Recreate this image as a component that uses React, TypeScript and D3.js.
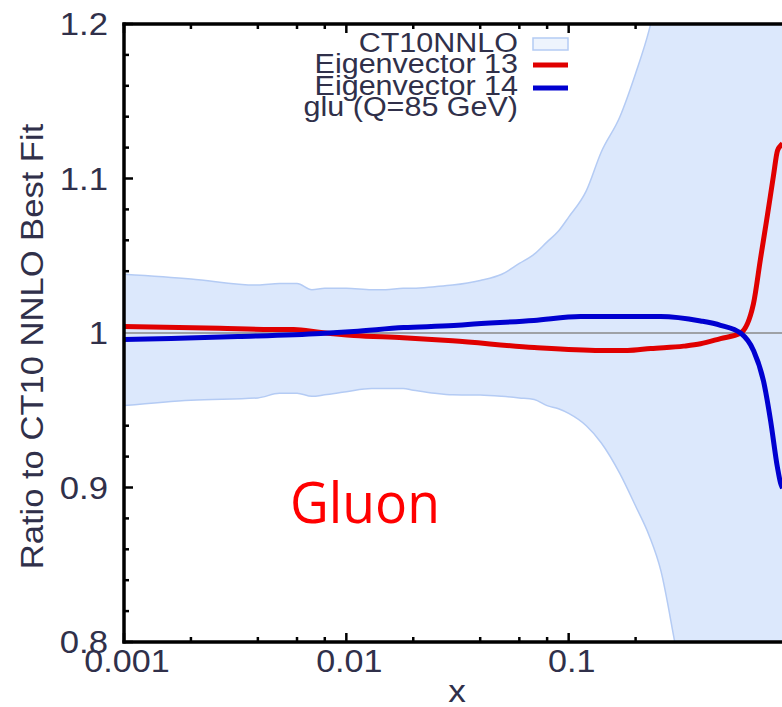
import React from "react";
import * as d3 from "d3";

// ---- data ----
const bandX = [0.001, 0.002, 0.004, 0.005, 0.006, 0.007, 0.008, 0.01, 0.013, 0.015, 0.018, 0.02, 0.025, 0.03, 0.04, 0.05, 0.06, 0.07, 0.08, 0.09, 0.1, 0.12, 0.14, 0.17, 0.2, 0.23, 0.26, 0.3, 0.4, 0.6, 0.8, 1];
const bandHi = [1.038, 1.035, 1.031, 1.032, 1.032, 1.028, 1.029, 1.029, 1.028, 1.028, 1.029, 1.029, 1.030, 1.031, 1.034, 1.038, 1.045, 1.051, 1.059, 1.066, 1.075, 1.092, 1.117, 1.140, 1.168, 1.196, 1.23, 1.28, 1.4, 1.6, 1.8, 2.0];
const bandLo = [0.953, 0.9565, 0.958, 0.961, 0.961, 0.959, 0.960, 0.962, 0.964, 0.964, 0.964, 0.963, 0.961, 0.960, 0.9598, 0.959, 0.958, 0.957, 0.953, 0.951, 0.948, 0.940, 0.929, 0.909, 0.888, 0.869, 0.846, 0.80, 0.7, 0.5, 0.3, 0.1];

const ev13X = [0.001, 0.0027, 0.0046, 0.0058, 0.0077, 0.0108, 0.018, 0.030, 0.07, 0.139, 0.184, 0.234, 0.329, 0.392, 0.482, 0.593, 0.678, 0.729, 0.784, 0.834, 0.869, 0.897, 0.916];
const ev13Y = [1.0042, 1.003, 1.0023, 1.0023, 1.0003, 0.9984, 0.997, 0.995, 0.9906, 0.9887, 0.9887, 0.990, 0.9915, 0.993, 0.9964, 1.0, 1.019, 1.048, 1.0766, 1.1018, 1.118, 1.1212, 1.1225];

const ev14X = [0.001, 0.00163, 0.00325, 0.00768, 0.0108, 0.0181, 0.0304, 0.0352, 0.0697, 0.113, 0.139, 0.259, 0.392, 0.482, 0.593, 0.678, 0.752, 0.809, 0.869, 0.897, 0.916];
const ev14Y = [0.9958, 0.9964, 0.9977, 0.9997, 1.001, 1.0035, 1.0048, 1.0055, 1.0081, 1.0107, 1.0107, 1.0107, 1.0078, 1.005, 1.0, 0.9887, 0.969, 0.9435, 0.913, 0.903, 0.8995];

const xMajor = [0.001, 0.01, 0.1, 1];
const xMajorLabels = ["0.001", "0.01", "0.1", "1"];
const xMinorMult = [2, 4, 6, 8];
const yMajor = [0.8, 0.9, 1.0, 1.1, 1.2];
const yMajorLabels = ["0.8", "0.9", "1", "1.1", "1.2"];
const yMinorStep = 0.02;

const legendLabels = ["CT10NNLO", "Eigenvector 13", "Eigenvector 14", "glu (Q=85 GeV)"];
const yTitle = "Ratio to CT10 NNLO Best Fit";
const xTitle = "x";
const annotation = "Gluon";

// ---- layout ----
const W = 782, H = 707;
const L = 124, R = 791, T = 24, B = 642;
const TEXT = "#30304a";
const FONT = "'Liberation Sans', Arial, sans-serif";

export default function App() {
  const x = d3.scaleLog().domain([0.001, 1]).range([L, R]);
  const y = d3.scaleLinear().domain([0.8, 1.2]).range([B, T]);

  const band = bandX.map((v, i) => ({ x: v, lo: bandLo[i], hi: bandHi[i] }));
  const area = d3.area<any>().x(d => x(d.x)).y0(d => y(d.lo)).y1(d => y(d.hi)).curve(d3.curveMonotoneX);
  const hiLine = d3.line<any>().x(d => x(d.x)).y(d => y(d.hi)).curve(d3.curveMonotoneX);
  const loLine = d3.line<any>().x(d => x(d.x)).y(d => y(d.lo)).curve(d3.curveMonotoneX);
  const line = d3.line<any>().x(d => x(d[0])).y(d => y(d[1])).curve(d3.curveMonotoneX);
  const ev13 = ev13X.map((v, i) => [v, ev13Y[i]]);
  const ev14 = ev14X.map((v, i) => [v, ev14Y[i]]);

  const xMinor: number[] = [];
  xMajor.slice(0, 3).forEach(d => xMinorMult.forEach(m => xMinor.push(d * m)));
  const yMinor: number[] = [];
  for (let v = 0.8; v <= 1.2001; v += yMinorStep) {
    const r = Math.round(v * 100) / 100;
    if (Math.abs(r * 10 - Math.round(r * 10)) > 1e-6) yMinor.push(r);
  }

  return (
    <svg width={W} height={H} style={{ position: "absolute", left: 0, top: 0, background: "#fff" }} fontFamily={FONT}>
      <defs>
        <clipPath id="plot">
          <rect x={L} y={T} width={R - L} height={B - T} />
        </clipPath>
      </defs>
      {/* ticks (under band) */}
      <g stroke="#000" strokeWidth={2.5}>
        {xMinor.map((v, i) => (
          <g key={"xm" + i}>
            <line x1={x(v)} x2={x(v)} y1={B} y2={B - 5} />
            <line x1={x(v)} x2={x(v)} y1={T} y2={T + 5} />
          </g>
        ))}
        {xMajor.map((v, i) => (
          <g key={"xM" + i}>
            <line x1={x(v)} x2={x(v)} y1={B} y2={B - 9} />
            <line x1={x(v)} x2={x(v)} y1={T} y2={T + 9} />
          </g>
        ))}
        {yMinor.map((v, i) => (
          <line key={"ym" + i} x1={L} x2={L + 5} y1={y(v)} y2={y(v)} />
        ))}
        {yMajor.map((v, i) => (
          <line key={"yM" + i} x1={L} x2={L + 9} y1={y(v)} y2={y(v)} />
        ))}
      </g>
      <g clipPath="url(#plot)">
        <path d={area(band) || ""} fill="#dce8fc" />
        <path d={hiLine(band) || ""} fill="none" stroke="#b4cbf4" strokeWidth={1.5} />
        <path d={loLine(band) || ""} fill="none" stroke="#b4cbf4" strokeWidth={1.5} />
        <line x1={L} x2={R} y1={y(1)} y2={y(1)} stroke="#8a8a8a" strokeWidth={1.5} />
        <path d={line(ev13 as any) || ""} fill="none" stroke="#e00000" strokeWidth={5} />
        <path d={line(ev14 as any) || ""} fill="none" stroke="#0000d0" strokeWidth={5} />
      </g>
      {/* spines */}
      <g stroke="#000" strokeWidth={3.5} fill="none">
        <line x1={L} x2={L} y1={T - 1.5} y2={B + 1.5} />
        <line x1={L - 1.5} x2={W + 20} y1={T} y2={T} />
        <line x1={L - 1.5} x2={W + 20} y1={B} y2={B} />
      </g>
      {/* y tick labels */}
      {yMajor.map((v, i) => (
        <text key={"yl" + i} transform={`translate(108,${y(v) + 11}) scale(1.12,1)`} textAnchor="end" fontSize={31} fill={TEXT}>
          {yMajorLabels[i]}
        </text>
      ))}
      {/* x tick labels (only those inside the visible frame) */}
      {xMajor.map((v, i) =>
        x(v) < W - 20 ? (
          <text key={"xl" + i} transform={`translate(${x(v) + 3},672) scale(1.1,1)`} textAnchor="middle" fontSize={31} fill={TEXT}>
            {xMajorLabels[i]}
          </text>
        ) : null
      )}
      <text transform={`translate(457,702) scale(1.1,1)`} textAnchor="middle" fontSize={32} fill={TEXT}>{xTitle}</text>
      <text transform={`translate(43,346.5) rotate(-90) scale(1.08,1)`} textAnchor="middle" fontSize={32} fill={TEXT}>{yTitle}</text>
      {/* legend */}
      {legendLabels.map((s, i) => (
        <text key={"lg" + i} transform={`translate(518,${52 + i * 21.3}) scale(1.09,1)`} textAnchor="end" fontSize={28} fill={TEXT}>
          {s}
        </text>
      ))}
      <rect x={533} y={38} width={35} height={12} fill="#eef4fd" stroke="#b4cbf4" strokeWidth={1.5} />
      <line x1={533} x2={568} y1={65} y2={65} stroke="#e00000" strokeWidth={5} />
      <line x1={533} x2={568} y1={88} y2={88} stroke="#0000d0" strokeWidth={5} />
      <text x={290} y={523} fontFamily="'Open Sans', 'Noto Sans', sans-serif" fontSize={56} fill="#ff0000" textLength={150} lengthAdjust="spacingAndGlyphs">
        {annotation}
      </text>
    </svg>
  );
}
